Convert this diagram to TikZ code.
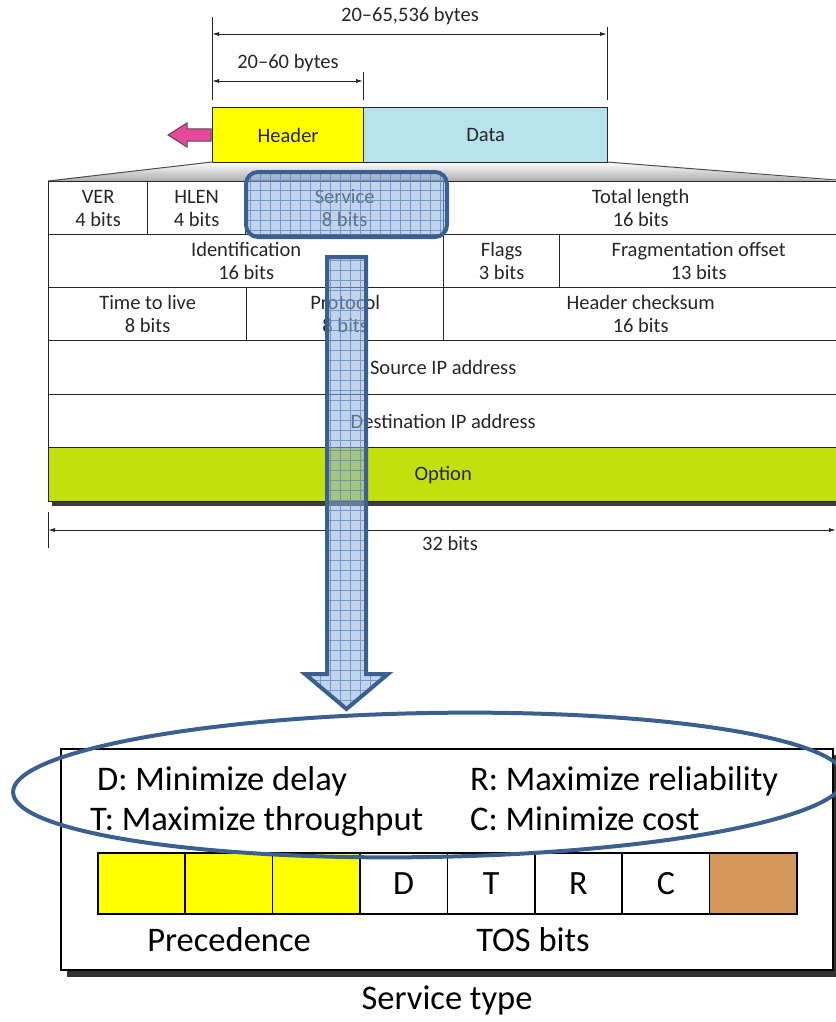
\documentclass[tikz,border=0pt]{standalone}
\usepackage{fontspec}
\setmainfont{Carlito}
\usetikzlibrary{arrows.meta,shapes.geometric}

\definecolor{hdryellow}{HTML}{FFFF00}
\definecolor{datablue}{HTML}{B8E3EE}
\definecolor{optgreen}{HTML}{C2E00E}
\definecolor{hlblue}{HTML}{3B6090}
\definecolor{hlfill}{HTML}{8FB0DD}
\definecolor{gridblue}{HTML}{5A86C8}
\definecolor{pinkarrow}{HTML}{E8489A}
\definecolor{tosbrown}{HTML}{D4965A}
\definecolor{inkgray}{HTML}{262626}

\tikzset{
  field/.style={draw=inkgray, line width=1.3pt, inner sep=0pt, align=center,
    font=\fontsize{20.5}{23}\selectfont, text=inkgray, anchor=north west},
  small/.style={font=\fontsize{20.5}{23}\selectfont, text=inkgray, inner sep=0pt},
  dimline/.style={line width=0.9pt, inkgray},
  dimarrow/.style={line width=0.9pt, inkgray, {Latex[length=7pt,width=4pt]}-{Latex[length=7pt,width=4pt]}},
  hlshape/.style={fill=hlfill, fill opacity=0.55},
  hlborder/.style={draw=hlblue, line width=4pt, line join=miter},
  gridline/.style={draw=gridblue, line width=0.6pt, opacity=0.75},
  bitcell/.style={draw=black, line width=1.5pt, minimum width=87.4pt, minimum height=61pt,
    inner sep=0pt, anchor=north west, font=\fontsize{34}{40}\selectfont},
  big/.style={font=\fontsize{34.5}{40}\selectfont, inner sep=0pt},
}

\begin{document}
\begin{tikzpicture}[x=1pt,y=-1pt]
\useasboundingbox (0,0) rectangle (835,1022);

% ---------- datagram: header + data with length dimensions ----------
\coordinate (dimL1) at (212,17);   \coordinate (dimL2) at (212,100);
\coordinate (dimR1) at (607,27);   \coordinate (dimR2) at (607,100);
\coordinate (dimM1) at (363,72);   \coordinate (dimM2) at (363,100);
\coordinate (totA) at (212,34);    \coordinate (totB) at (607,34);
\coordinate (hdA) at (212,81);     \coordinate (hdB) at (363,81);
\draw[dimline] (dimL1) -- (dimL2);
\draw[dimline] (dimR1) -- (dimR2);
\draw[dimline] (dimM1) -- (dimM2);
\draw[dimarrow] (totA) -- (totB);
\draw[dimarrow] (hdA) -- (hdB);
\node[small] (totlbl) at (410,16) {20–65,536 bytes};
\node[small] (hdlbl) at (288,63) {20–60 bytes};

% fan-out from the header down to the table
\shade[top color=white, bottom color=gray!65] (212,162) -- (607,162) -- (836,181) -- (48,181) -- cycle;
\draw[line width=1pt, gray!60!black] (212,162) -- (48,181);
\draw[line width=1pt, gray!60!black] (607,162) -- (836,180);

\node[field, fill=hdryellow, minimum width=151pt, minimum height=55pt] (hdr) at (212,107) {Header};
\node[field, fill=datablue, minimum width=244pt, minimum height=55pt] (data) at (363,107) {Data};

% pink arrow pointing away from the header
\draw[fill=pinkarrow, draw=black!70, line width=1pt, line join=miter]
  (168,135) -- (187,123) -- (187,129) -- (211,129) -- (211,141) -- (187,141) -- (187,147) -- cycle;

% ---------- IPv4 header fields ----------
\node[field, minimum width=99pt,  minimum height=53pt] (ver)   at (48,181)  {VER\\4 bits};
\node[field, minimum width=98pt,  minimum height=53pt] (hlen)  at (147,181) {HLEN\\4 bits};
\node[field, minimum width=198pt, minimum height=53pt] (serv)  at (245,181) {Service\\8 bits};
\node[field, minimum width=394pt, minimum height=53pt] (tlen)  at (443,181) {Total length\\16 bits};

\node[field, minimum width=395pt, minimum height=53pt] (ident) at (48,234)  {Identification\\16 bits};
\node[field, minimum width=116pt, minimum height=53pt] (flags) at (443,234) {Flags\\3 bits};
\node[field, minimum width=278pt, minimum height=53pt] (frag)  at (559,234) {Fragmentation offset\\13 bits};

\node[field, minimum width=198pt, minimum height=53pt] (ttl)   at (48,287)  {Time to live\\8 bits};
\node[field, minimum width=197pt, minimum height=53pt] (proto) at (246,287) {Protocol\\8 bits};
\node[field, minimum width=394pt, minimum height=53pt] (cksum) at (443,287) {Header checksum\\16 bits};

\node[field, minimum width=789pt, minimum height=54pt] (src)   at (48,340)  {Source IP address};
\node[field, minimum width=789pt, minimum height=53pt] (dst)   at (48,394)  {Destination IP address};
\fill[inkgray!90] (52,500) rectangle (837,506);
\node[field, fill=optgreen, minimum width=789pt, minimum height=54pt] (opt) at (48,447) {Option};

% width dimension
\coordinate (wtick1) at (48,512); \coordinate (wtick2) at (48,548);
\coordinate (wA) at (48,530);     \coordinate (wB) at (836,530);
\draw[dimline] (wtick1) -- (wtick2);
\draw[dimarrow] (wA) -- (wB);
\node[small] (wlbl) at (450,543) {32 bits};

% ---------- highlighted service field ----------
\path[hlshape, rounded corners=12pt] (246,172) rectangle (447,237);
\begin{scope}
  \clip[rounded corners=12pt] (246,172) rectangle (447,237);
  \draw[gridline, step=10pt] (230,160) grid (460,250);
\end{scope}
\draw[hlborder, rounded corners=12pt] (246,172) rectangle (447,237);

% big downward arrow
\path[hlshape] (327,257) -- (366,257) -- (366,674) -- (388,674) -- (346.5,709) -- (305,674) -- (327,674) -- cycle;
\begin{scope}
  \clip (327,257) -- (366,257) -- (366,674) -- (388,674) -- (346.5,709) -- (305,674) -- (327,674) -- cycle;
  \draw[gridline, step=10pt] (300,250) grid (400,720);
\end{scope}
\draw[hlborder] (327,257) -- (366,257) -- (366,674) -- (388,674) -- (346.5,709) -- (305,674) -- (327,674) -- cycle;

% ---------- service type byte ----------
\fill[inkgray!95] (67,755) rectangle (838,977);
\node[draw=black, fill=white, line width=2pt, minimum width=772pt, minimum height=221pt,
      anchor=north west, inner sep=0pt] (svcbox) at (60,748) {};

\node[big, anchor=base west] (legD) at (97,790)  {D: Minimize delay};
\node[big, anchor=base west] (legT) at (90,830)  {T: Maximize throughput};
\node[big, anchor=base west] (legR) at (470,790) {R: Maximize reliability};
\node[big, anchor=base west] (legC) at (470,830) {C: Minimize cost};

\node[bitcell, fill=hdryellow] (p1) at (97,852) {};
\node[bitcell, fill=hdryellow] (p2) at (184.4,852) {};
\node[bitcell, fill=hdryellow] (p3) at (271.8,852) {};
\node[bitcell] (bD) at (359.2,852) {D};
\node[bitcell] (bT) at (446.6,852) {T};
\node[bitcell] (bR) at (534.0,852) {R};
\node[bitcell] (bC) at (621.4,852) {C};
\node[bitcell, fill=tosbrown] (b8) at (708.8,852) {};

\node[big] (prec) at (229,940) {Precedence};
\node[big] (tos)  at (533,940) {TOS bits};
\node[big] (stype) at (447,1000) {Service type};

% emphasis ring around the legend
\node[draw=hlblue, line width=4pt, ellipse, minimum width=832pt, minimum height=144pt,
      inner sep=0pt, rotate=1] (ring) at (429,785) {};
\end{tikzpicture}
\end{document}
